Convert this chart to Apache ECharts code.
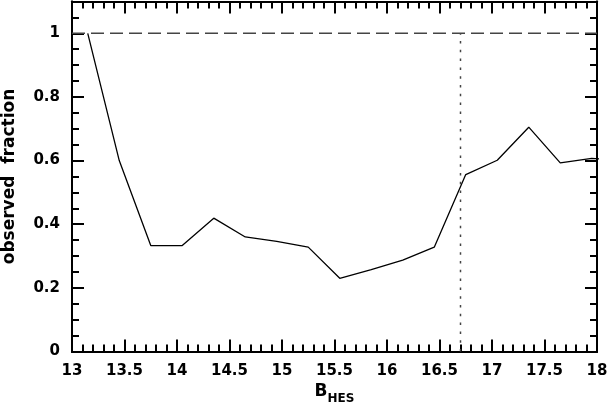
<!DOCTYPE html>
<html>
<head>
<meta charset="utf-8">
<script src="https://cdn.jsdelivr.net/npm/echarts@6/dist/echarts.min.js"></script>
<style>html,body{margin:0;padding:0;background:#fff;}#c{width:609px;height:404px;}</style>
</head>
<body>
<div id="c"></div>
<script>
// magnitude bins (B_HES) and observed fraction
const magBins = [13.15, 13.45, 13.75, 14.05, 14.35, 14.65, 14.95, 15.25, 15.55, 15.85, 16.15, 16.45, 16.75, 17.05, 17.35, 17.65, 17.95, 18.25];
const obsFraction = [1.0, 0.60, 0.333, 0.333, 0.419, 0.36, 0.346, 0.328, 0.23, 0.257, 0.287, 0.328, 0.556, 0.601, 0.705, 0.593, 0.607, 0.60];
// reference lines
const unityX = [13, 18];
const unityY = [1, 1];
const limitX = [16.7, 16.7];
const limitY = [0, 1];
// axis settings
const xRange = [13, 18];
const yRange = [0, 1.1];

const FONT = 'DejaVu Sans';
const chart = echarts.init(document.getElementById('c'), null, {renderer: 'canvas'});

function xAx(pos, major, showLabel) {
  return {
    type: 'value', position: pos, min: xRange[0], max: xRange[1], interval: major ? 0.5 : 0.1,
    axisLine: {show: true, onZero: false, lineStyle: {color: '#000', width: 2}},
    axisTick: {show: true, inside: true, length: major ? 12 : 7, lineStyle: {color: '#000', width: 2}},
    splitLine: {show: false},
    axisLabel: {show: showLabel, margin: 12, color: '#000', fontFamily: FONT, fontWeight: 'bold', fontSize: 15},
    name: showLabel ? '{b|B}{s|HES}' : '',
    nameLocation: 'middle', nameGap: 22,
    nameTextStyle: {
      color: '#000', fontFamily: FONT, fontWeight: 'bold',
      rich: {
        b: {fontSize: 17, fontFamily: FONT, fontWeight: 'bold', color: '#000', verticalAlign: 'bottom', padding: [0, 0, 4, 0]},
        s: {fontSize: 12, fontFamily: FONT, fontWeight: 'bold', color: '#000', verticalAlign: 'bottom'}
      }
    }
  };
}
function yAx(pos, major, showLabel) {
  return {
    type: 'value', position: pos, min: yRange[0], max: yRange[1], interval: major ? 0.2 : 0.05,
    offset: 0,
    axisLine: {show: true, onZero: false, lineStyle: {color: '#000', width: 2}},
    axisTick: {show: true, inside: true, length: major ? 12 : 7, lineStyle: {color: '#000', width: 2}},
    splitLine: {show: false},
    axisLabel: {show: showLabel, showMaxLabel: false, margin: 12, color: '#000', fontFamily: FONT, fontWeight: 'bold', fontSize: 15},
    name: showLabel ? 'observed  fraction' : '',
    nameLocation: 'middle', nameGap: 54,
    nameTextStyle: {color: '#000', fontFamily: FONT, fontWeight: 'bold', fontSize: 17}
  };
}

const option = {
  backgroundColor: '#fff',
  animation: false,
  grid: {left: 72, right: 12, top: 1.5, bottom: 52.5, containLabel: false, outerBoundsMode: 'none'},
  xAxis: [xAx('bottom', true, true), xAx('bottom', false, false), xAx('top', true, false), xAx('top', false, false)],
  yAxis: [yAx('left', true, true), yAx('left', false, false), yAx('right', true, false), yAx('right', false, false)],
  series: [
    {
      type: 'line', xAxisIndex: 0, yAxisIndex: 0, symbol: 'none', clip: true,
      lineStyle: {color: '#000', width: 1.3},
      data: magBins.map((x, i) => [x, obsFraction[i]])
    },
    {
      type: 'line', xAxisIndex: 0, yAxisIndex: 0, symbol: 'none',
      lineStyle: {color: '#444', width: 1.5, type: [13, 6]},
      data: unityX.map((x, i) => [x, unityY[i]])
    },
    {
      type: 'line', xAxisIndex: 0, yAxisIndex: 0, symbol: 'none',
      lineStyle: {color: '#444', width: 1.5, type: [2.5, 6.3]},
      data: limitX.map((x, i) => [x, limitY[i]])
    }
  ]
};
chart.setOption(option);
</script>
</body>
</html>
